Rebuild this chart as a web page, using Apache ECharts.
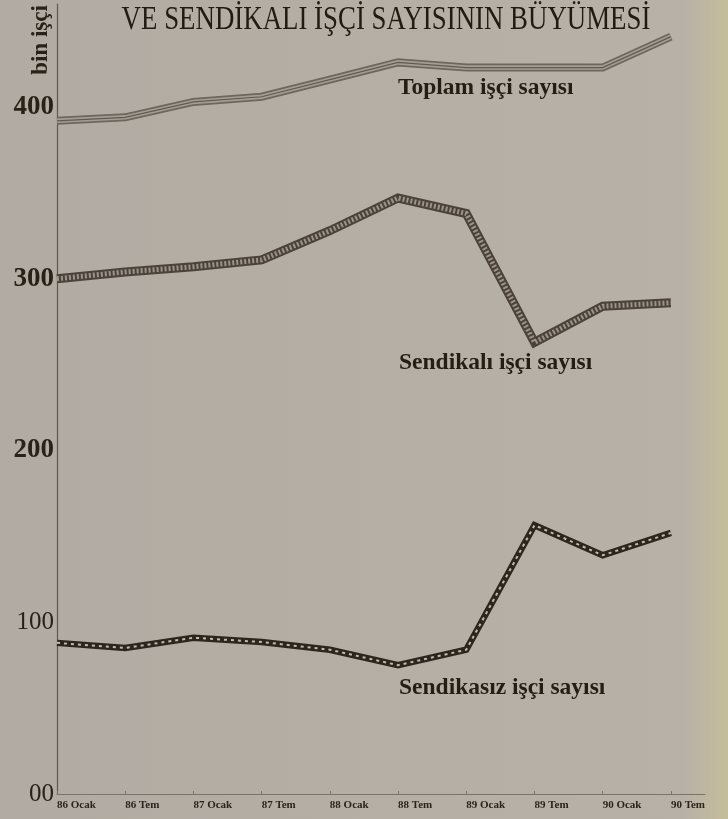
<!DOCTYPE html>
<html>
<head>
<meta charset="utf-8">
<script src="https://cdn.jsdelivr.net/npm/echarts@6/dist/echarts.min.js"></script>
<style>
html,body{margin:0;padding:0;}
#c{width:728px;height:819px;}
</style>
</head>
<body>
<div id="c"></div>
<script>
// ---- data ----
const categories = ['86 Ocak','86 Tem','87 Ocak','87 Tem','88 Ocak','88 Tem','89 Ocak','89 Tem','90 Ocak','90 Tem'];
const toplam     = [392, 394, 403, 406, 416, 426, 423, 423, 423, 441];
const sendikali  = [300, 304, 307, 311, 328, 347, 338, 263, 284, 286];
const sendikasiz = [88, 85, 91, 88.5, 84, 75, 84, 156.5, 139, 152];
const yTicks     = [0, 100, 200, 300, 400];
const yTickText  = ['00', '100', '200', '300', '400'];
const titleText  = 'VE SENDİKALI İŞÇİ SAYISININ BÜYÜMESİ';
const yName      = 'bin işçi';
const seriesNames = ['Toplam işçi sayısı', 'Sendikalı işçi sayısı', 'Sendikasız işçi sayısı'];

const pts = arr => arr.map((v, i) => [i, v]);
const serif = '"Liberation Serif", "DejaVu Serif", serif';

function band(data, width, color, extra) {
  return Object.assign({
    type: 'line', data: pts(data), symbol: 'none', silent: true,
    lineStyle: { width: width, color: color, join: 'miter', cap: 'butt' },
    z: 2
  }, extra || {});
}

const chart = echarts.init(document.getElementById('c'));
chart.setOption({
  backgroundColor: new echarts.graphic.LinearGradient(0, 0, 1, 0, [
    { offset: 0, color: '#b2aba3' },
    { offset: 0.94, color: '#b8b1a7' },
    { offset: 0.975, color: '#bfb89f' },
    { offset: 1, color: '#c5be9a' }
  ]),
  animation: false,
  grid: { left: 57, right: 23, top: 4, bottom: 25, containLabel: false },
  xAxis: {
    type: 'value', min: 0, max: 9.5, interval: 1,
    splitLine: { show: false },
    axisLine: { show: true, lineStyle: { color: '#7b746c', width: 1 } },
    axisTick: { show: true, inside: true, length: 3, lineStyle: { color: '#7b746c' } },
    axisLabel: {
      showMaxLabel: false,
      formatter: v => (Number.isInteger(v) && categories[v]) ? categories[v] : '',
      align: 'left', margin: 6,
      fontFamily: serif, fontWeight: 'bold', fontSize: 11, color: '#2b231c'
    }
  },
  yAxis: {
    type: 'value', min: 0, max: 460, interval: 100,
    splitLine: { show: false },
    axisLine: { show: true, lineStyle: { color: '#5f5850', width: 1.2 } },
    axisTick: { show: false },
    axisLabel: {
      showMaxLabel: false, margin: 3,
      formatter: v => {
        const k = yTicks.indexOf(v);
        if (k < 0) return '';
        return (v <= 100 ? '{n|' : '{b|') + yTickText[k] + '}';
      },
      rich: {
        b: { fontFamily: serif, fontWeight: 'bold', fontSize: 27, color: '#2a2119' },
        n: { fontFamily: serif, fontWeight: 'normal', fontSize: 25, color: '#2a2119' }
      }
    }
  },
  series: [
    band(toplam, 8, '#6d665e'),
    band(toplam, 4.5, '#a49d94'),
    band(toplam, 1.2, '#615a52'),
    band(sendikali, 9, '#4b433b'),
    band(sendikali, 5, '#9c948a', { lineStyle: { width: 5, color: '#9c948a', type: [2, 2], cap: 'butt', join: 'miter' } }),
    band(sendikasiz, 6.5, '#2c261f'),
    band(sendikasiz, 2, '#c2bab0', { lineStyle: { width: 2, color: '#c2bab0', type: [3, 4], cap: 'butt', join: 'miter' } })
  ],
  graphic: [
    { type: 'text', x: 386, y: 20, scaleX: 0.79, style: { text: titleText, font: 'normal 34px ' + serif, fill: '#231a13', textAlign: 'center', textVerticalAlign: 'middle' } },
    { type: 'text', x: 41, y: 40, rotation: Math.PI / 2, style: { text: yName, font: 'bold 23px ' + serif, fill: '#2a2119', textAlign: 'center', textVerticalAlign: 'middle' } },
    { type: 'text', x: 398, y: 88, style: { text: seriesNames[0], font: 'bold 23.5px ' + serif, fill: '#261d15', textAlign: 'left', textVerticalAlign: 'middle' } },
    { type: 'text', x: 399, y: 363, style: { text: seriesNames[1], font: 'bold 23.5px ' + serif, fill: '#261d15', textAlign: 'left', textVerticalAlign: 'middle' } },
    { type: 'text', x: 399, y: 688, style: { text: seriesNames[2], font: 'bold 23.5px ' + serif, fill: '#261d15', textAlign: 'left', textVerticalAlign: 'middle' } }
  ]
});
</script>
</body>
</html>
